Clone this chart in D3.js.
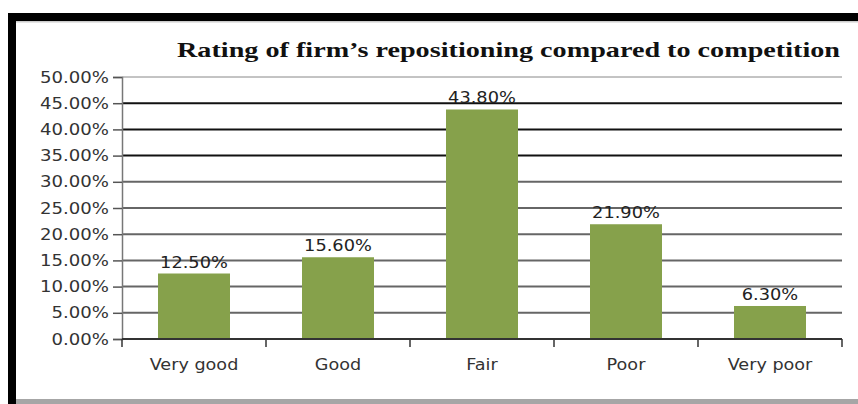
<!DOCTYPE html>
<html>
<head>
<meta charset="utf-8">
<script src="https://cdn.jsdelivr.net/npm/d3@7"></script>
<style>
    body { margin: 0; background: #fff; }
    svg { display: block; }
</style>
</head>
<body>
<div id="chart"></div>
<script>
// Chart data
const categories = ["Very good", "Good", "Fair", "Poor", "Very poor"];
const values = [12.5, 15.6, 43.8, 21.9, 6.3];
const yTicks = [0, 5, 10, 15, 20, 25, 30, 35, 40, 45, 50];
const title = "Rating of firm\u2019s repositioning compared to competition";

const width = 858, height = 404;
const padding = {top: 77, right: 16, bottom: 65, left: 122};

const svg = d3.select("#chart").append("svg")
    .attr("width", width)
    .attr("height", height);

// Frame: thick black top and left, gray bottom
svg.append("rect").attr("x", 8).attr("y", 13).attr("width", width - 8).attr("height", 8).attr("fill", "#000");
svg.append("rect").attr("x", 8).attr("y", 13).attr("width", 8).attr("height", height - 13).attr("fill", "#000");
svg.append("rect").attr("x", 16).attr("y", 21).attr("width", width - 16).attr("height", 1.5).attr("fill", "#ccc");
svg.append("rect").attr("x", 16).attr("y", 399).attr("width", width - 16).attr("height", 5).attr("fill", "#a6a6a6");

// Stretch a text node horizontally (the source picture is a bit wide)
function stretch(sel, k) {
    sel.each(function() {
        const w = this.getComputedTextLength();
        d3.select(this).attr("textLength", w * k).attr("lengthAdjust", "spacingAndGlyphs");
    });
}

// Scales
const xScale = d3.scaleBand()
    .domain(categories)
    .range([padding.left, width - padding.right])
    .paddingInner(0.5)
    .paddingOuter(0.25);

const yScale = d3.scaleLinear()
    .domain([0, 50])
    .range([height - padding.bottom, padding.top]);

// Gridlines
svg.append("g")
    .selectAll("line")
    .data(yTicks.filter(d => d > 0))
    .enter().append("line")
    .attr("x1", padding.left)
    .attr("x2", width - padding.right)
    .attr("y1", d => yScale(d))
    .attr("y2", d => yScale(d))
    .attr("stroke", d => d === 50 ? "#888" : (d >= 35 ? "#111" : "#666"))
    .attr("stroke-width", d => d === 50 ? 1 : 2);

// Y axis
const yAxis = svg.append("g")
    .attr("transform", "translate(" + padding.left + ",0)")
    .call(d3.axisLeft(yScale).tickValues(yTicks).tickSize(9).tickPadding(4)
        .tickFormat(d => d.toFixed(2) + "%"));
yAxis.select(".domain").attr("stroke", "#777").attr("stroke-width", 1.5);
yAxis.selectAll(".tick line").attr("stroke", "#555").attr("stroke-width", 1.5);
yAxis.selectAll(".tick text")
    .attr("fill", "#333")
    .style("font-family", "'DejaVu Sans', sans-serif")
    .style("font-size", "16px")
    .call(stretch, 1.13);

// Bars
svg.selectAll(".bar")
    .data(values)
    .enter().append("rect")
    .attr("class", "bar")
    .attr("x", (d, i) => xScale(categories[i]))
    .attr("y", d => yScale(d))
    .attr("width", xScale.bandwidth())
    .attr("height", d => yScale(0) - yScale(d))
    .attr("fill", "#86a14b");

// Data labels
svg.selectAll(".label")
    .data(values)
    .enter().append("text")
    .attr("class", "label")
    .attr("x", (d, i) => xScale(categories[i]) + xScale.bandwidth() / 2)
    .attr("y", d => yScale(d) - 6)
    .attr("text-anchor", "middle")
    .attr("fill", "#222")
    .style("font-family", "'DejaVu Sans', sans-serif")
    .style("font-size", "16px")
    .text(d => d.toFixed(2) + "%")
    .call(stretch, 1.11);

// X axis with ticks between categories
const x0 = padding.left, x1 = width - padding.right;
const step = (x1 - x0) / categories.length;
const xAxis = svg.append("g");
xAxis.append("line")
    .attr("x1", x0).attr("x2", x1)
    .attr("y1", yScale(0)).attr("y2", yScale(0))
    .attr("stroke", "#333").attr("stroke-width", 2);
xAxis.selectAll(".xtick")
    .data(d3.range(categories.length + 1))
    .enter().append("line")
    .attr("x1", i => x0 + i * step).attr("x2", i => x0 + i * step)
    .attr("y1", yScale(0)).attr("y2", yScale(0) + 8)
    .attr("stroke", "#333").attr("stroke-width", 1.5);
xAxis.selectAll(".cat")
    .data(categories)
    .enter().append("text")
    .attr("x", d => xScale(d) + xScale.bandwidth() / 2)
    .attr("y", yScale(0) + 31)
    .attr("text-anchor", "middle")
    .attr("fill", "#333")
    .style("font-family", "'DejaVu Sans', sans-serif")
    .style("font-size", "16px")
    .text(d => d)
    .call(stretch, 1.1);

// Title
svg.append("text")
    .attr("x", 177)
    .attr("y", 57)
    .attr("fill", "#111")
    .style("font-family", "'Liberation Serif', 'Times New Roman', serif")
    .style("font-weight", "bold")
    .style("font-size", "22px")
    .attr("textLength", 663)
    .attr("lengthAdjust", "spacingAndGlyphs")
    .text(title);
</script>
</body>
</html>
